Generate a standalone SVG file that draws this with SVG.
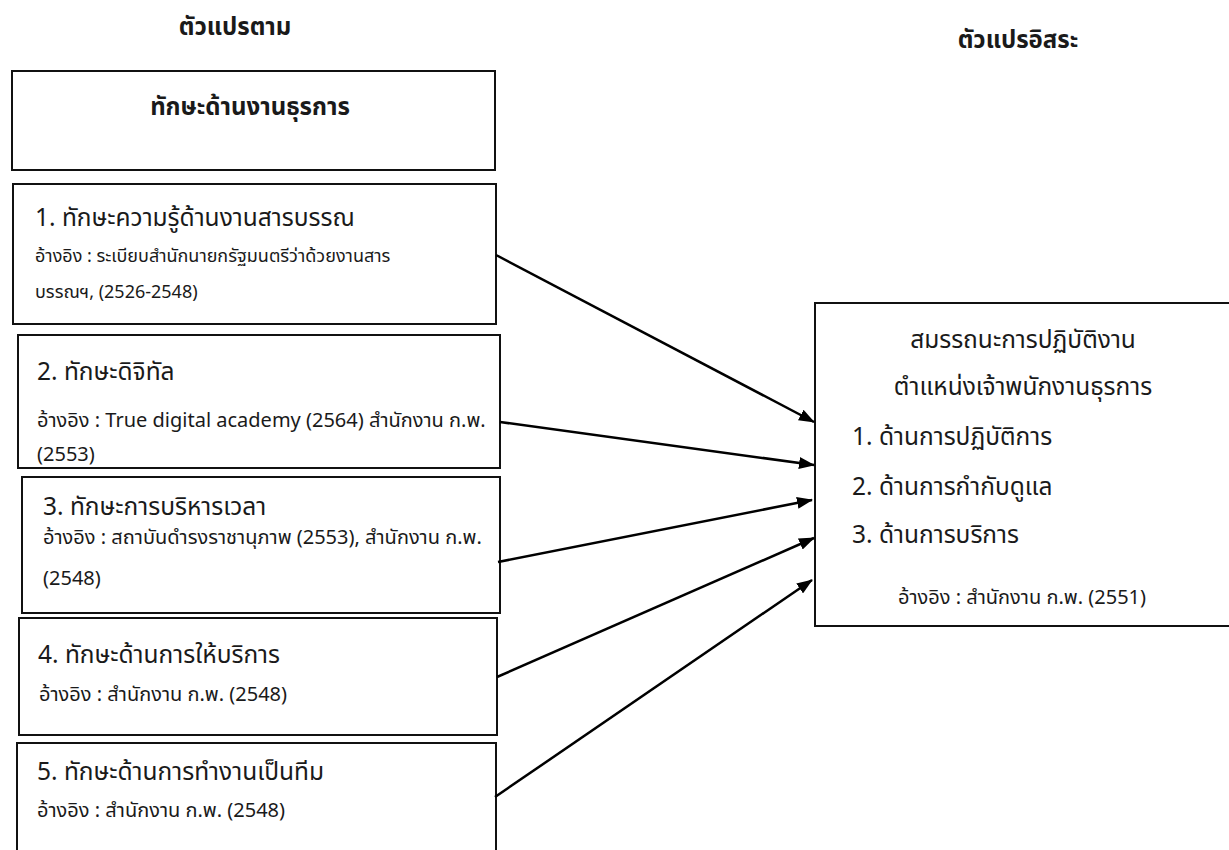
<svg xmlns="http://www.w3.org/2000/svg" width="1229" height="850" viewBox="0 0 1229 850">
<defs>
<style>
text{font-family:"Noto Sans Thai","Noto Sans","DejaVu Sans",sans-serif;fill:#1a1a1a}
.h{font-size:24px;font-weight:bold}
.t{font-size:24.5px}
.r{font-size:20px}
.r1{font-size:18px}
.box{fill:#fff;stroke:#111;stroke-width:2}
.c{stroke:#000;stroke-width:2.5;fill:none;marker-end:url(#ah)}
</style>
<marker id="ah" markerWidth="16" markerHeight="12" refX="15" refY="6" orient="auto" markerUnits="userSpaceOnUse" viewBox="0 0 16 12">
<path d="M0,0 L16,6 L0,12 z" fill="#000"/>
</marker>
</defs>
<rect width="1229" height="850" fill="#fff"/>
<g id="heading-dependent"><text class="h" x="235" y="35" text-anchor="middle">ตัวแปรตาม</text></g>
<g id="heading-independent"><text class="h" x="1018" y="48" text-anchor="middle">ตัวแปรอิสระ</text></g>
<g id="node-0">
<rect class="box" x="12" y="71" width="483" height="99"/>
<text class="h" x="250" y="115" text-anchor="middle">ทักษะด้านงานธุรการ</text>
</g>
<g id="node-1">
<rect class="box" x="13" y="184" width="483" height="140"/>
<text class="t" x="35" y="226">1. ทักษะความรู้ด้านงานสารบรรณ</text>
<text class="r1" x="35" y="262">อ้างอิง : ระเบียบสำนักนายกรัฐมนตรีว่าด้วยงานสาร</text>
<text class="r1" x="35" y="298">บรรณฯ, (2526-2548)</text>
</g>
<g id="node-2">
<rect class="box" x="18" y="335" width="482" height="133"/>
<text class="t" x="37" y="380">2. ทักษะดิจิทัล</text>
<text class="r" x="37" y="427">อ้างอิง : True digital academy (2564)  สำนักงาน ก.พ.</text>
<text class="r" x="37" y="461">(2553)</text>
</g>
<g id="node-3">
<rect class="box" x="22" y="477" width="478" height="136"/>
<text class="t" x="43" y="515">3. ทักษะการบริหารเวลา</text>
<text class="r" x="43" y="544">อ้างอิง : สถาบันดำรงราชานุภาพ (2553), สำนักงาน ก.พ.</text>
<text class="r" x="43" y="585">(2548)</text>
</g>
<g id="node-4">
<rect class="box" x="19" y="618" width="478" height="117"/>
<text class="t" x="38" y="663">4. ทักษะด้านการให้บริการ</text>
<text class="r" x="39" y="701">อ้างอิง : สำนักงาน ก.พ. (2548)</text>
</g>
<g id="node-5">
<rect class="box" x="17" y="743" width="479" height="112"/>
<text class="t" x="37" y="780">5. ทักษะด้านการทำงานเป็นทีม</text>
<text class="r" x="37" y="817">อ้างอิง : สำนักงาน ก.พ. (2548)</text>
</g>
<g id="node-target">
<rect class="box" x="815" y="303" width="425" height="323"/>
<text class="t" x="1023" y="348" text-anchor="middle">สมรรถนะการปฏิบัติงาน</text>
<text class="t" x="1023" y="395" text-anchor="middle">ตำแหน่งเจ้าพนักงานธุรการ</text>
<text class="t" x="852" y="445">1. ด้านการปฏิบัติการ</text>
<text class="t" x="852" y="495">2. ด้านการกำกับดูแล</text>
<text class="t" x="852" y="543">3. ด้านการบริการ</text>
<text class="r" x="1022" y="604" text-anchor="middle">อ้างอิง : สำนักงาน ก.พ. (2551)</text>
</g>
<g id="connectors">
<line class="c" x1="496" y1="255" x2="814" y2="422"/>
<line class="c" x1="500" y1="422" x2="814" y2="465"/>
<line class="c" x1="498" y1="562" x2="812" y2="500"/>
<line class="c" x1="497" y1="677" x2="814" y2="538"/>
<line class="c" x1="495" y1="797" x2="812" y2="580"/>
</g>
</svg>
